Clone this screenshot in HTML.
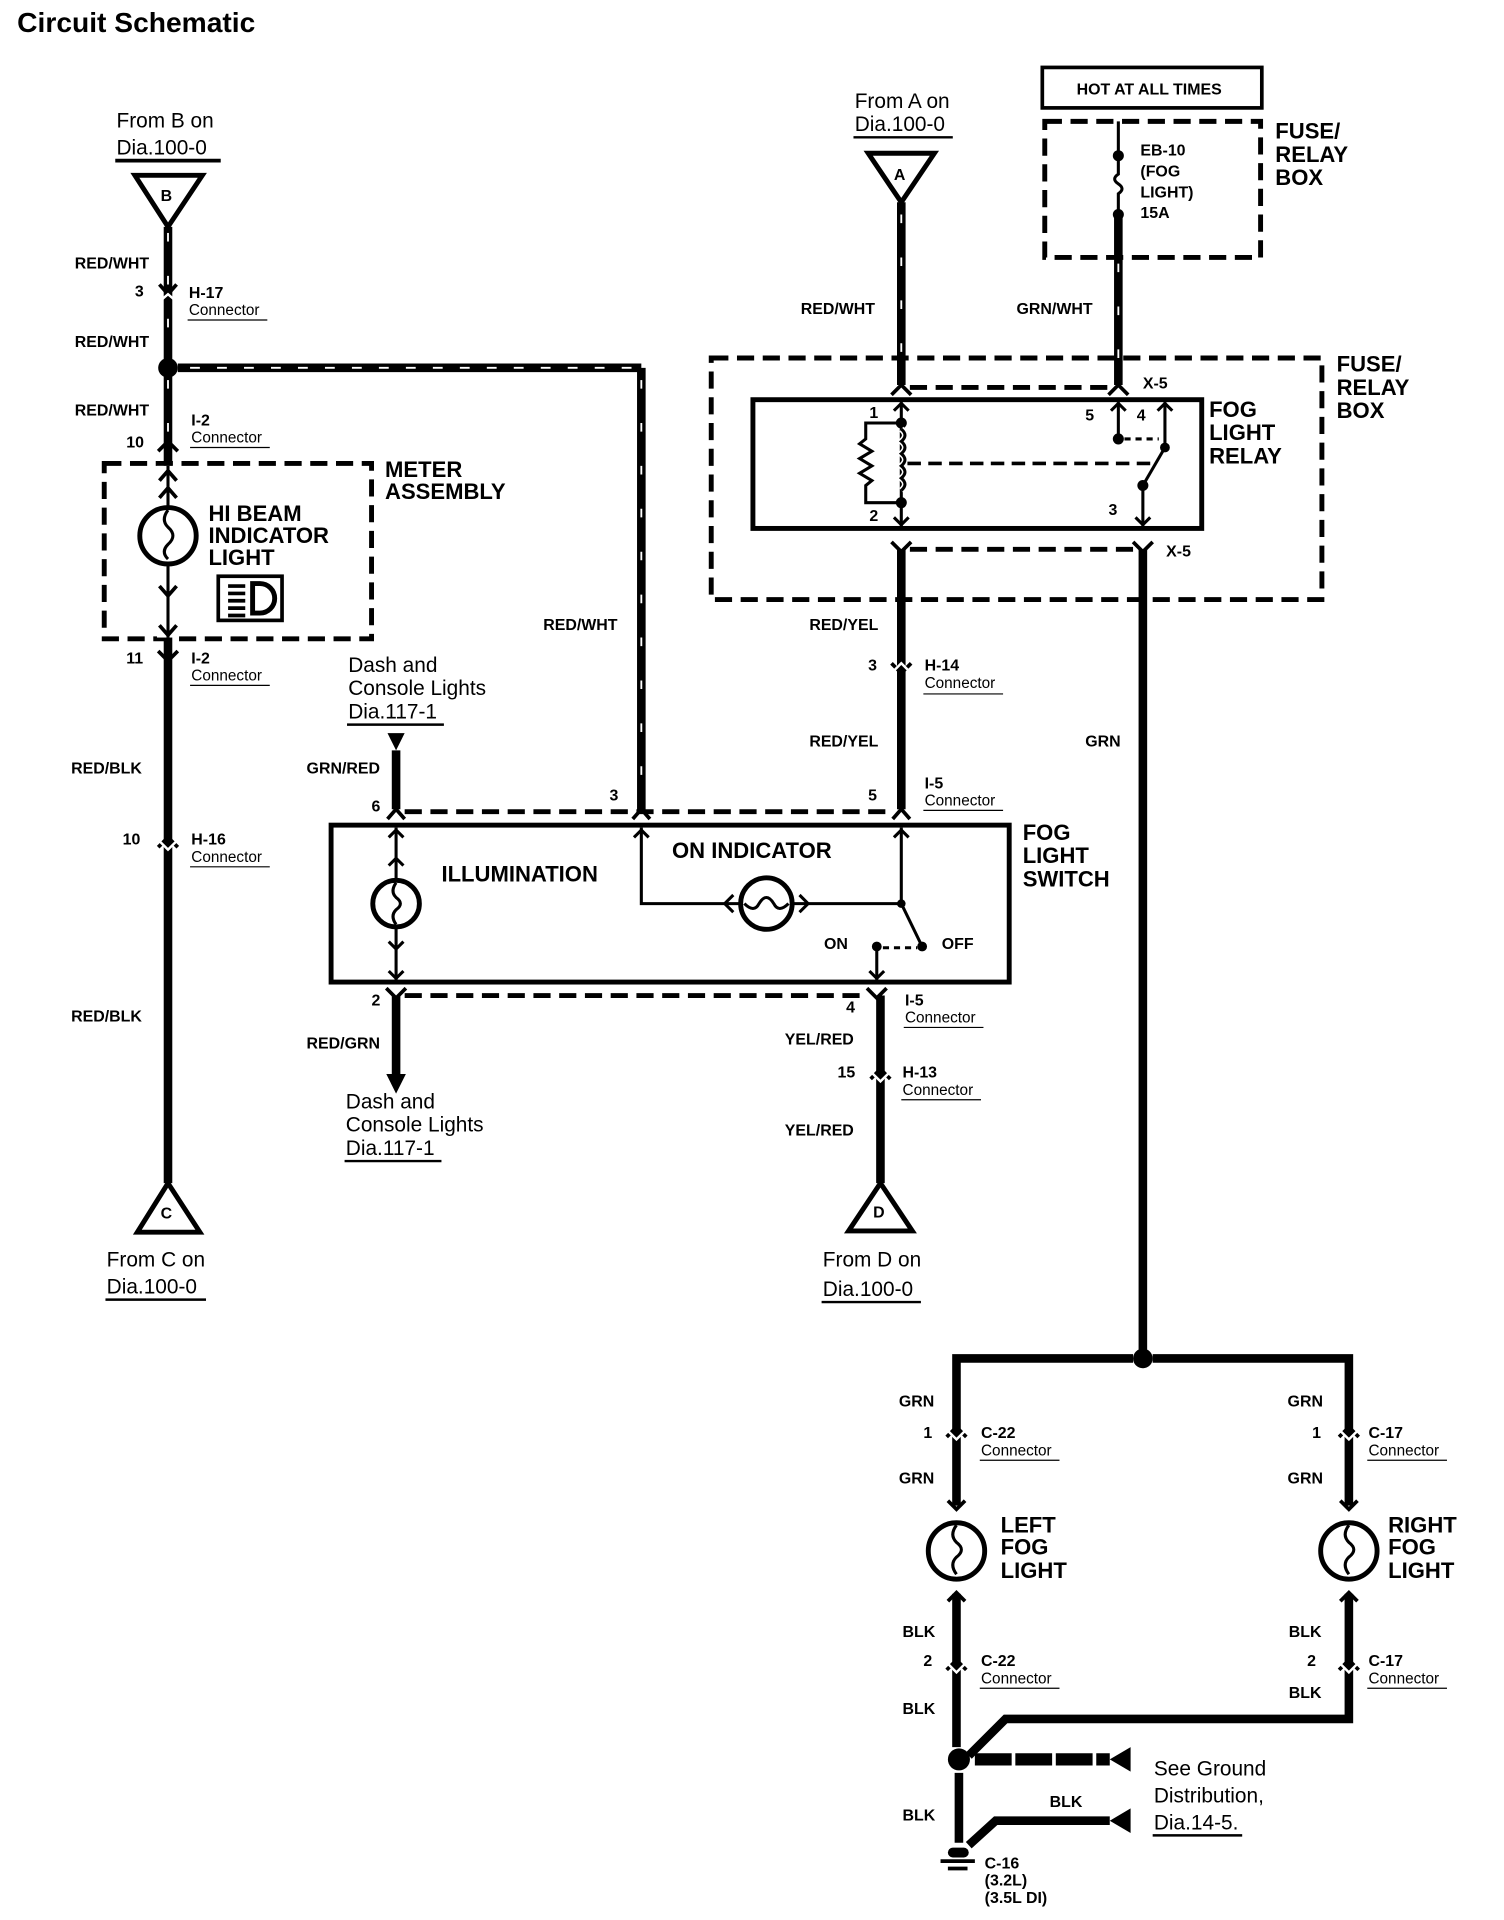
<!DOCTYPE html>
<html><head><meta charset="utf-8"><style>
html,body{margin:0;padding:0;background:#fff}
svg{display:block}
text{font-family:"Liberation Sans",Arial,sans-serif;fill:#000}
.b{font-weight:bold;font-size:13px}
.c{font-size:12.5px}
.L{font-weight:bold;font-size:18px}
.f{font-size:17px}
.w{stroke:#000;stroke-width:7;fill:none}
.t{stroke:#000;stroke-width:3;fill:none}
.d{stroke:#000;stroke-width:4;fill:none;stroke-dasharray:14 7}
.s{stroke:#fff;stroke-width:1.5;stroke-dasharray:7 28}
</style></head><body>
<svg width="1504" height="1920" viewBox="0 0 1226.5 1566" preserveAspectRatio="none" xmlns="http://www.w3.org/2000/svg">
<text x="14" y="26" style="font-weight:bold;font-size:23px">Circuit Schematic</text>

<!-- LEFT COLUMN -->
<text x="95" y="104" class="f">From B on</text>
<text x="95" y="126" class="f">Dia.100-0</text>
<line x1="94" y1="131" x2="180" y2="131" class="t" stroke-width="2"/>
<polygon points="110,143 165,143 137,185" fill="#fff" stroke="#000" stroke-width="4"/>
<text x="131" y="164" class="b" font-size="15">B</text>
<line x1="137" y1="185" x2="137" y2="965" class="w"/>
<line x1="137" y1="190" x2="137" y2="290" class="s"/>
<line x1="137" y1="310" x2="137" y2="360" class="s"/>
<polyline points="130,232 137,240 144,232" class="t"/><polyline points="130,246 137,240 144,246" stroke="#fff" stroke-width="2" fill="none"/>
<text x="61" y="219" class="b">RED/WHT</text>
<text x="110" y="242" class="b">3</text>
<text x="154" y="243" class="b">H-17</text><text x="154" y="257" class="c">Connector</text><line x1="153" y1="261" x2="218" y2="261" stroke="#000"/>
<text x="61" y="283" class="b">RED/WHT</text>
<circle cx="137" cy="300" r="8"/>
<line x1="145" y1="300" x2="523" y2="300" class="w"/>
<line x1="155" y1="300" x2="523" y2="300" class="s" style="stroke-dasharray:8 14"/>
<line x1="523" y1="300" x2="523" y2="662" class="w"/>
<line x1="523" y1="310" x2="523" y2="655" class="s"/>
<text x="61" y="339" class="b">RED/WHT</text>
<text x="103" y="365" class="b">10</text>
<polyline points="129,368 137,360 145,368" class="t"/>
<text x="156" y="347" class="b">I-2</text><text x="156" y="361" class="c">Connector</text><line x1="155" y1="365" x2="220" y2="365" stroke="#000"/>
<rect x="85" y="378" width="218" height="143" class="d"/>
<text x="314" y="389" class="L" font-size="17">METER</text><text x="314" y="407" class="L" font-size="17">ASSEMBLY</text>
<rect x="128" y="380" width="18" height="140" fill="#fff"/>
<line x1="137" y1="380" x2="137" y2="520" stroke="#000" stroke-width="2.5"/>
<circle cx="137" cy="437" r="23" fill="#fff" stroke="#000" stroke-width="4"/>
<path d="M137,416 q-6,8 0,14 q8,7 0,14 q-6,6 0,12" stroke="#000" stroke-width="2.5" fill="none"/>
<polyline points="130,392 137,384 144,392" class="t" stroke-width="2.5"/><polyline points="130,406 137,398 144,406" class="t" stroke-width="2.5"/>
<polyline points="130,478 137,486 144,478" class="t" stroke-width="2.5"/><polyline points="130,510 137,518 144,510" class="t" stroke-width="2.5"/>
<text x="170" y="425" class="L">HI BEAM</text><text x="170" y="443" class="L">INDICATOR</text><text x="170" y="461" class="L">LIGHT</text>
<rect x="178" y="470" width="52" height="36" fill="none" stroke="#000" stroke-width="3"/>
<path d="M206,476 h6 a12,12 0 0 1 0,24 h-6 z" fill="none" stroke="#000" stroke-width="4"/>
<g stroke="#000" stroke-width="3"><line x1="186" y1="478" x2="200" y2="478"/><line x1="186" y1="484" x2="200" y2="484"/><line x1="186" y1="490" x2="200" y2="490"/><line x1="186" y1="496" x2="200" y2="496"/><line x1="186" y1="502" x2="200" y2="502"/></g>
<polyline points="129,531 137,539 145,531" class="t"/>
<text x="103" y="541" class="b">11</text>
<text x="156" y="541" class="b">I-2</text><text x="156" y="555" class="c">Connector</text><line x1="155" y1="559" x2="220" y2="559" stroke="#000"/>
<text x="58" y="631" class="b">RED/BLK</text>
<polyline points="129,691 137,683 145,691" class="t"/><polyline points="129,685 137,693 145,685" stroke="#fff" stroke-width="2" fill="none"/>
<text x="100" y="689" class="b">10</text>
<text x="156" y="689" class="b">H-16</text><text x="156" y="703" class="c">Connector</text><line x1="155" y1="707" x2="220" y2="707" stroke="#000"/>
<text x="58" y="833" class="b">RED/BLK</text>
<polygon points="137,965 112,1005 163,1005" fill="#fff" stroke="#000" stroke-width="4"/>
<text x="131" y="994" class="b" font-size="15">C</text>
<text x="87" y="1033" class="f">From C on</text>
<text x="87" y="1055" class="f">Dia.100-0</text>
<line x1="86" y1="1060" x2="168" y2="1060" stroke="#000" stroke-width="2"/>

<!-- DASH / SWITCH -->
<text x="284" y="548" class="f">Dash and</text><text x="284" y="567" class="f">Console Lights</text><text x="284" y="586" class="f">Dia.117-1</text>
<line x1="283" y1="591" x2="362" y2="591" stroke="#000" stroke-width="2"/>
<polygon points="316,598 330,598 323,612" fill="#000"/>
<line x1="323" y1="612" x2="323" y2="660" class="w"/>
<text x="250" y="631" class="b">GRN/RED</text>
<text x="303" y="662" class="b">6</text>
<text x="497" y="653" class="b">3</text>
<text x="443" y="514" class="b">RED/WHT</text>
<text x="708" y="653" class="b">5</text>
<text x="754" y="643" class="b">I-5</text><text x="754" y="657" class="c">Connector</text><line x1="753" y1="661" x2="818" y2="661" stroke="#000"/>
<line x1="330" y1="662" x2="728" y2="662" class="d" stroke-width="3.5"/>
<polyline points="316,668 323,660 330,668" class="t"/><polyline points="516,668 523,660 530,668" class="t"/><polyline points="728,668 735,660 742,668" class="t"/>
<rect x="270" y="673" width="553" height="128" fill="none" stroke="#000" stroke-width="4"/>
<text x="834" y="685" class="L">FOG</text><text x="834" y="704" class="L">LIGHT</text><text x="834" y="723" class="L">SWITCH</text>
<line x1="323" y1="675" x2="323" y2="800" stroke="#000" stroke-width="2.5"/>
<polyline points="317,683 323,677 329,683" stroke="#000" stroke-width="2.5" fill="none"/><polyline points="317,706 323,700 329,706" stroke="#000" stroke-width="2.5" fill="none"/>
<circle cx="323" cy="737" r="19" fill="#fff" stroke="#000" stroke-width="4"/>
<path d="M323,720 q-5,7 0,12 q7,5 0,10 q-5,5 0,12" stroke="#000" stroke-width="2.5" fill="none"/>
<polyline points="317,768 323,774 329,768" stroke="#000" stroke-width="2.5" fill="none"/><polyline points="317,792 323,798 329,792" stroke="#000" stroke-width="2.5" fill="none"/>
<text x="360" y="719" class="L">ILLUMINATION</text>
<text x="548" y="700" class="L">ON INDICATOR</text>
<polyline points="523,675 523,737 735,737 735,675" stroke="#000" stroke-width="2.5" fill="none"/>
<polyline points="517,683 523,677 529,683" stroke="#000" stroke-width="2.5" fill="none"/><polyline points="729,683 735,677 741,683" stroke="#000" stroke-width="2.5" fill="none"/>
<circle cx="625" cy="737" r="21" fill="#fff" stroke="#000" stroke-width="4"/>
<path d="M607,737 q8,8 12,0 q6,-10 12,0 q4,8 12,0" stroke="#000" stroke-width="2.5" fill="none"/>
<polyline points="598,730 591,737 598,744" stroke="#000" stroke-width="2.5" fill="none"/><polyline points="652,730 659,737 652,744" stroke="#000" stroke-width="2.5" fill="none"/>
<circle cx="735" cy="737" r="3.5"/>
<line x1="735" y1="737" x2="752" y2="772" stroke="#000" stroke-width="2.5"/>
<circle cx="752" cy="772" r="4"/><circle cx="715" cy="772" r="4"/>
<line x1="720" y1="773" x2="748" y2="773" stroke="#000" stroke-width="2.5" stroke-dasharray="5 4"/>
<line x1="715" y1="772" x2="715" y2="800" stroke="#000" stroke-width="2.5"/>
<polyline points="709,792 715,798 721,792" stroke="#000" stroke-width="2.5" fill="none"/>
<text x="672" y="774" class="b">ON</text><text x="768" y="774" class="b">OFF</text>
<line x1="330" y1="812" x2="708" y2="812" class="d" stroke-width="3.5"/>
<polyline points="315,806 323,814 331,806" class="t"/><polyline points="707,806 715,814 723,806" class="t"/>
<line x1="323" y1="812" x2="323" y2="878" class="w"/>
<polygon points="315,876 331,876 323,892" fill="#000"/>
<text x="303" y="820" class="b">2</text>
<text x="250" y="855" class="b">RED/GRN</text>
<text x="282" y="904" class="f">Dash and</text><text x="282" y="923" class="f">Console Lights</text><text x="282" y="942" class="f">Dia.117-1</text>
<line x1="281" y1="947" x2="360" y2="947" stroke="#000" stroke-width="2"/>
<line x1="718" y1="812" x2="718" y2="965" class="w"/>
<text x="690" y="826" class="b">4</text>
<text x="738" y="820" class="b">I-5</text><text x="738" y="834" class="c">Connector</text><line x1="737" y1="838" x2="802" y2="838" stroke="#000"/>
<text x="640" y="852" class="b">YEL/RED</text>
<polyline points="710,880 718,872 726,880" class="t"/><polyline points="710,874 718,882 726,874" stroke="#fff" stroke-width="2" fill="none"/>
<text x="683" y="879" class="b">15</text>
<text x="736" y="879" class="b">H-13</text><text x="736" y="893" class="c">Connector</text><line x1="735" y1="897" x2="800" y2="897" stroke="#000"/>
<text x="640" y="926" class="b">YEL/RED</text>
<polygon points="718,965 692,1004 744,1004" fill="#fff" stroke="#000" stroke-width="4"/>
<text x="712" y="993" class="b" font-size="15">D</text>
<text x="671" y="1033" class="f">From D on</text><text x="671" y="1057" class="f">Dia.100-0</text>
<line x1="670" y1="1062" x2="751" y2="1062" stroke="#000" stroke-width="2"/>

<!-- TOP RIGHT -->
<text x="697" y="88" class="f">From A on</text><text x="697" y="107" class="f">Dia.100-0</text>
<line x1="696" y1="112" x2="777" y2="112" stroke="#000" stroke-width="2"/>
<polygon points="708,125 762,125 735,165" fill="#fff" stroke="#000" stroke-width="4"/>
<text x="729" y="147" class="b" font-size="15">A</text>
<line x1="735" y1="165" x2="735" y2="314" class="w"/>
<line x1="735" y1="175" x2="735" y2="310" class="s"/>
<text x="653" y="256" class="b">RED/WHT</text>
<rect x="850" y="55" width="179" height="33" fill="none" stroke="#000" stroke-width="3"/>
<text x="878" y="77" class="b">HOT AT ALL TIMES</text>
<rect x="852" y="99" width="176" height="111" class="d"/>
<text x="1040" y="113" class="L">FUSE/</text><text x="1040" y="132" class="L">RELAY</text><text x="1040" y="151" class="L">BOX</text>
<line x1="912" y1="99" x2="912" y2="127" stroke="#000" stroke-width="2.5"/>
<circle cx="912" cy="127" r="4.5"/><circle cx="912" cy="175" r="4.5"/>
<path d="M912,127 v15 q-6,4 0,8 q6,4 0,8 v17" stroke="#000" stroke-width="2.5" fill="none"/>
<text x="930" y="127" class="b" font-size="12">EB-10</text><text x="930" y="144" class="b" font-size="12">(FOG</text><text x="930" y="161" class="b" font-size="12">LIGHT)</text><text x="930" y="178" class="b" font-size="12">15A</text>
<line x1="912" y1="175" x2="912" y2="314" class="w"/>
<line x1="912" y1="215" x2="912" y2="310" class="s"/>
<text x="829" y="256" class="b">GRN/WHT</text>
<rect x="580" y="292" width="498" height="197" class="d"/>
<text x="1090" y="303" class="L">FUSE/</text><text x="1090" y="322" class="L">RELAY</text><text x="1090" y="341" class="L">BOX</text>
<line x1="742" y1="316" x2="905" y2="316" class="d" stroke-width="3.5"/>
<polyline points="727,322 735,314 743,322" class="t"/><polyline points="904,322 912,314 920,322" class="t"/>
<text x="932" y="317" class="b">X-5</text>
<rect x="614" y="326" width="366" height="105" fill="none" stroke="#000" stroke-width="4"/>
<text x="986" y="340" class="L">FOG</text><text x="986" y="359" class="L">LIGHT</text><text x="986" y="378" class="L">RELAY</text>
<line x1="735" y1="328" x2="735" y2="430" stroke="#000" stroke-width="2.5"/>
<polyline points="729,335 735,329 741,335" stroke="#000" stroke-width="2.5" fill="none"/>
<polyline points="729,422 735,428 741,422" stroke="#000" stroke-width="2.5" fill="none"/>
<circle cx="735" cy="345" r="4.5"/><circle cx="735" cy="410" r="4.5"/>
<polyline points="735,345 706,345 706,358 701,362 711,368 701,374 711,380 701,386 711,392 706,396 706,410 735,410" stroke="#000" stroke-width="2.5" fill="none"/>
<path d="M735,350 q6,5 0,10 q6,5 0,10 q6,5 0,10 q6,5 0,10 q6,5 0,10" stroke="#fff" stroke-width="5" fill="none"/>
<path d="M735,350 q6,5 0,10 q6,5 0,10 q6,5 0,10 q6,5 0,10 q6,5 0,10" stroke="#000" stroke-width="2.5" fill="none"/>
<text x="709" y="341" class="b">1</text><text x="709" y="425" class="b">2</text>
<line x1="740" y1="378" x2="938" y2="378" stroke="#000" stroke-width="3" stroke-dasharray="11 6"/>
<line x1="912" y1="328" x2="912" y2="358" stroke="#000" stroke-width="2.5"/>
<polyline points="906,335 912,329 918,335" stroke="#000" stroke-width="2.5" fill="none"/>
<circle cx="912" cy="358" r="4.5"/>
<line x1="917" y1="358" x2="945" y2="358" stroke="#000" stroke-width="2.5" stroke-dasharray="5 4"/>
<line x1="950" y1="328" x2="950" y2="365" stroke="#000" stroke-width="2.5"/>
<polyline points="944,335 950,329 956,335" stroke="#000" stroke-width="2.5" fill="none"/>
<circle cx="950" cy="365" r="4"/>
<line x1="950" y1="365" x2="932" y2="396" stroke="#000" stroke-width="2.5"/>
<circle cx="932" cy="396" r="4.5"/>
<line x1="932" y1="396" x2="932" y2="430" stroke="#000" stroke-width="2.5"/>
<polyline points="926,422 932,428 938,422" stroke="#000" stroke-width="2.5" fill="none"/>
<text x="885" y="343" class="b">5</text><text x="927" y="343" class="b">4</text><text x="904" y="420" class="b">3</text>
<line x1="742" y1="448" x2="925" y2="448" class="d" stroke-width="3.5"/>
<polyline points="727,442 735,450 743,442" class="t"/><polyline points="924,442 932,450 940,442" class="t"/>
<text x="951" y="454" class="b">X-5</text>
<line x1="735" y1="448" x2="735" y2="660" class="w"/>
<text x="660" y="514" class="b">RED/YEL</text>
<polyline points="727,541 735,549 743,541" class="t"/><polyline points="727,549 735,541 743,549" stroke="#fff" stroke-width="2" fill="none"/>
<text x="708" y="547" class="b">3</text>
<text x="754" y="547" class="b">H-14</text><text x="754" y="561" class="c">Connector</text><line x1="753" y1="566" x2="818" y2="566" stroke="#000"/>
<text x="660" y="609" class="b">RED/YEL</text>
<line x1="932" y1="448" x2="932" y2="1108" class="w"/>
<text x="885" y="609" class="b">GRN</text>

<!-- FOG LIGHTS -->
<circle cx="932" cy="1108" r="8"/>
<polyline points="924,1108 780,1108 780,1228" class="w"/>
<polyline points="940,1108 1100,1108 1100,1228" class="w"/>
<text x="733" y="1147" class="b">GRN</text><text x="1050" y="1147" class="b">GRN</text>
<text x="753" y="1173" class="b">1</text><text x="1070" y="1173" class="b">1</text>
<polyline points="772,1172 780,1164 788,1172" class="t"/><polyline points="772,1166 780,1174 788,1166" stroke="#fff" stroke-width="2" fill="none"/>
<polyline points="1092,1172 1100,1164 1108,1172" class="t"/><polyline points="1092,1166 1100,1174 1108,1166" stroke="#fff" stroke-width="2" fill="none"/>
<text x="800" y="1173" class="b">C-22</text><text x="800" y="1187" class="c">Connector</text><line x1="799" y1="1191" x2="864" y2="1191" stroke="#000"/>
<text x="1116" y="1173" class="b">C-17</text><text x="1116" y="1187" class="c">Connector</text><line x1="1115" y1="1191" x2="1180" y2="1191" stroke="#000"/>
<text x="733" y="1210" class="b">GRN</text><text x="1050" y="1210" class="b">GRN</text>
<polyline points="773,1224 780,1231 787,1224" class="t"/>
<circle cx="780" cy="1265" r="23" fill="#fff" stroke="#000" stroke-width="4"/>
<path d="M780,1244 q-6,8 0,14 q8,6 0,12 q-6,6 0,14" stroke="#000" stroke-width="2.5" fill="none"/>
<line x1="780" y1="1300" x2="780" y2="1425" class="w"/>
<polyline points="773,1306 780,1299 787,1306" class="t"/>
<text x="816" y="1250" class="L">LEFT</text><text x="816" y="1268" class="L">FOG</text><text x="816" y="1287" class="L">LIGHT</text>
<polyline points="1093,1224 1100,1231 1107,1224" class="t"/>
<circle cx="1100" cy="1265" r="23" fill="#fff" stroke="#000" stroke-width="4"/>
<path d="M1100,1244 q-6,8 0,14 q8,6 0,12 q-6,6 0,14" stroke="#000" stroke-width="2.5" fill="none"/>
<polyline points="1093,1306 1100,1299 1107,1306" class="t"/>
<text x="1132" y="1250" class="L">RIGHT</text><text x="1132" y="1268" class="L">FOG</text><text x="1132" y="1287" class="L">LIGHT</text>
<polyline points="1100,1300 1100,1402 820,1402 790,1432" class="w"/>
<text x="736" y="1335" class="b">BLK</text><text x="1051" y="1335" class="b">BLK</text>
<text x="753" y="1359" class="b">2</text><text x="1066" y="1359" class="b">2</text>
<polyline points="772,1362 780,1354 788,1362" class="t"/><polyline points="772,1356 780,1364 788,1356" stroke="#fff" stroke-width="2" fill="none"/>
<polyline points="1092,1362 1100,1354 1108,1362" class="t"/><polyline points="1092,1356 1100,1364 1108,1356" stroke="#fff" stroke-width="2" fill="none"/>
<text x="800" y="1359" class="b">C-22</text><text x="800" y="1373" class="c">Connector</text><line x1="799" y1="1377" x2="864" y2="1377" stroke="#000"/>
<text x="1116" y="1359" class="b">C-17</text><text x="1116" y="1373" class="c">Connector</text><line x1="1115" y1="1377" x2="1180" y2="1377" stroke="#000"/>
<text x="1051" y="1385" class="b">BLK</text>
<text x="736" y="1398" class="b">BLK</text>
<circle cx="782" cy="1435" r="9"/>
<line x1="795" y1="1435" x2="905" y2="1435" stroke="#000" stroke-width="10" stroke-dasharray="30 3"/>
<polygon points="905,1435 922,1425 922,1445" fill="#000"/>
<line x1="782" y1="1446" x2="782" y2="1503" class="w"/>
<polyline points="790,1505 812,1485 905,1485" class="w"/>
<polygon points="905,1485 922,1475 922,1495" fill="#000"/>
<text x="856" y="1474" class="b">BLK</text>
<text x="736" y="1485" class="b">BLK</text>
<rect x="773" y="1507" width="17" height="8" rx="4" fill="#000"/>
<line x1="767" y1="1518" x2="795" y2="1518" stroke="#000" stroke-width="3"/>
<line x1="773" y1="1524" x2="789" y2="1524" stroke="#000" stroke-width="3"/>
<text x="803" y="1524" class="b" font-size="12">C-16</text><text x="803" y="1538" class="b" font-size="12">(3.2L)</text><text x="803" y="1552" class="b" font-size="12">(3.5L DI)</text>
<text x="941" y="1448" class="f">See Ground</text><text x="941" y="1470" class="f">Distribution,</text><text x="941" y="1492" class="f">Dia.14-5.</text>
<line x1="940" y1="1497" x2="1013" y2="1497" stroke="#000" stroke-width="2"/>
</svg>
</body></html>
